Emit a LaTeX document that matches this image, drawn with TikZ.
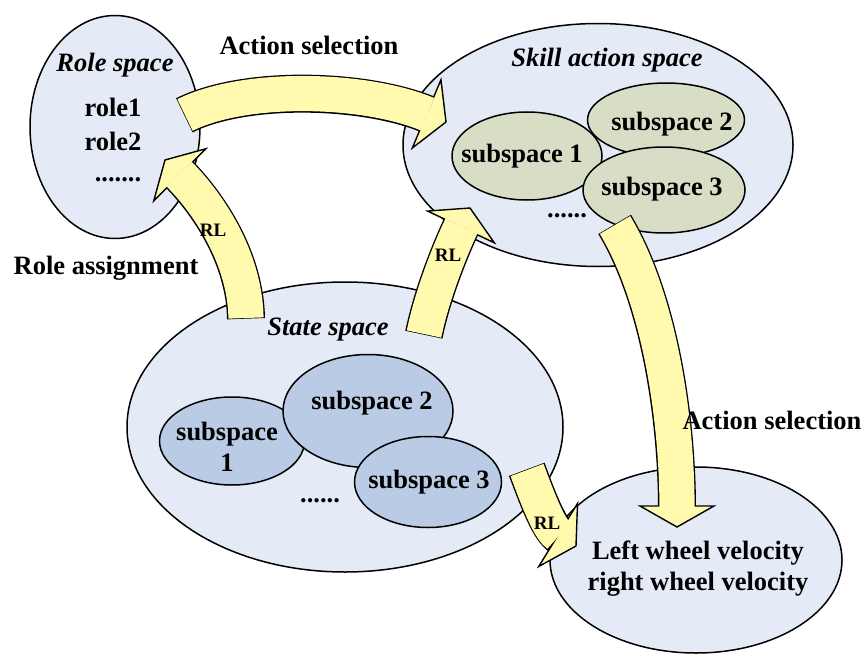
\documentclass[tikz,border=0pt]{standalone}
\usepackage{fontspec}
\setmainfont{Liberation Serif}
\usetikzlibrary{shapes.geometric,decorations.markings}

\definecolor{spacefill}{HTML}{E4EBF6}
\definecolor{bluesub}{HTML}{BACBE5}
\definecolor{greensub}{HTML}{D8DEC6}
\definecolor{arrowyellow}{HTML}{FFFAAE}

% Fat curved block arrow: outline, head, then yellow body on top
\newcommand{\blockarrow}[1]{%
  \draw[line width=38pt, draw=black, shorten >=18pt, shorten <=-0.7pt] #1;
  \path[decoration={markings, mark=at position 1 with {%
      \filldraw[fill=arrowyellow, draw=black, line width=1.4pt, line join=miter]
        (0pt,0pt) -- (-21pt,37pt) -- (-21pt,-37pt) -- cycle;}}, decorate] #1;
  \draw[line width=35.2pt, draw=arrowyellow, shorten >=20pt] #1;
}

\tikzset{
  space/.style={ellipse, draw=black, line width=1.5pt, fill=spacefill, inner sep=0pt},
  inblue/.style={ellipse, draw=black, line width=1.5pt, fill=bluesub, inner sep=0pt},
  ingreen/.style={ellipse, draw=black, line width=1.5pt, fill=greensub, inner sep=0pt},
  lbl/.style={font=\fontsize{26.5}{31}\selectfont\bfseries, inner sep=0pt, align=center},
  ttl/.style={font=\fontsize{26.5}{31}\selectfont\bfseries\itshape, inner sep=0pt},
  rl/.style={font=\fontsize{19}{22}\selectfont\bfseries, inner sep=0pt},
}

\begin{document}
\begin{tikzpicture}[x=1pt, y=-1pt]
\useasboundingbox (0,0) rectangle (864,658);

% Spaces
\node[space, minimum width=170pt, minimum height=223pt] (role) at (115,127) {};
\node[space, minimum width=390pt, minimum height=243pt] (skill) at (598,145) {};
\node[ingreen, minimum width=150pt, minimum height=88pt] (ks1) at (527,156) {};
\node[ingreen, minimum width=157pt, minimum height=74pt] (ks2) at (666,120) {};
\node[ingreen, minimum width=162pt, minimum height=86pt] (ks3) at (664,190) {};

\node[space, minimum width=436pt, minimum height=290pt] (state) at (345,427) {};
\node[inblue, minimum width=145pt, minimum height=88pt] (ss1) at (232,441) {};
\node[inblue, minimum width=170pt, minimum height=113pt] (ss2) at (368,411) {};
\node[inblue, minimum width=147pt, minimum height=91pt] (ss3) at (428,482) {};

\node[space, minimum width=292pt, minimum height=186pt] (wheel) at (696,560) {};

% Arrow end points
\coordinate (aTail) at (185,115);
\coordinate (aTip) at (446,122);
\coordinate (bTail) at (246,318);
\coordinate (bTip) at (165,160);
\coordinate (cTail) at (424,334);
\coordinate (cTip) at (470,208);
\coordinate (dTail) at (615,225);
\coordinate (dTip) at (677,527);
\coordinate (eTail) at (527,470);
\coordinate (eTip) at (576,546);

% Connecting arrows
\blockarrow{(aTail) .. controls (245,85) and (365,88) .. (aTip)}
\blockarrow{(bTail) .. controls (245,255) and (205,200) .. (bTip)}
\blockarrow{(cTail) .. controls (432,295) and (450,250) .. (cTip)}
\blockarrow{(dTail) .. controls (660,300) and (677,420) .. (dTip)}
\blockarrow{(eTail) .. controls (540,505) and (550,530) .. (eTip)}

% Texts
\node[ttl] (roleT) at (115,65) {Role space};
\node[lbl] (r1) at (113,107) {role1};
\node[lbl] (r2) at (113,141) {role2};
\node[lbl] (rd) at (118,180) {.......};

\node[ttl] (skillT) at (607,60) {Skill action space};
\node[lbl] (ks1T) at (522,156) {subspace 1};
\node[lbl] (ks2T) at (672,124) {subspace 2};
\node[lbl] (ks3T) at (662,189) {subspace 3};
\node[lbl] (kd) at (567,216) {......};

\node[ttl] (stateT) at (328,330) {State space};
\node[lbl] (ss1T) at (227,447) {subspace\\1};
\node[lbl] (ss2T) at (372,403) {subspace 2};
\node[lbl] (ss3T) at (429,482) {subspace 3};
\node[lbl] (sd) at (320,501) {......};

\node[lbl] (wheelT) at (698,569) {Left wheel velocity\\right wheel velocity};

\node[lbl] (actTop) at (309,45) {Action selection};
\node[lbl] (assign) at (106,268) {Role assignment};
\node[lbl] (actRight) at (772,420) {Action selection};

\node[rl] (rlB) at (213,230) {RL};
\node[rl] (rlC) at (448,255) {RL};
\node[rl] (rlE) at (547,523) {RL};
\end{tikzpicture}
\end{document}
